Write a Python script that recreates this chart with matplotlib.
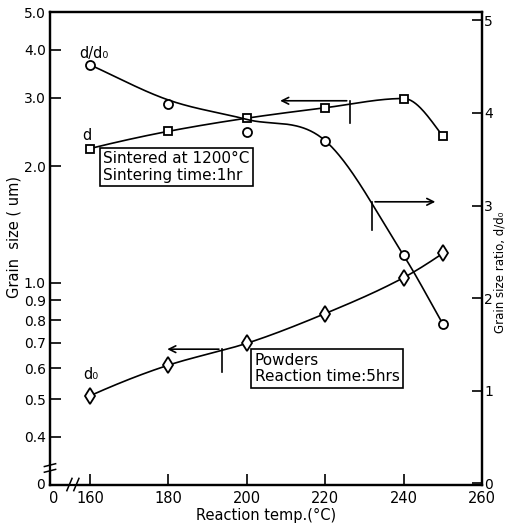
import numpy as np
import matplotlib
matplotlib.use("Agg")
import matplotlib.pyplot as plt
from matplotlib.ticker import NullLocator, FixedLocator, FixedFormatter

# ---------------- data ----------------
temps = [160, 180, 200, 220, 240, 250]
d_sintered = [2.22, 2.46, 2.66, 2.83, 2.99, 2.39]      # d (um), squares, left axis
d_powder = [0.51, 0.612, 0.697, 0.832, 1.03, 1.19]     # d0 (um), diamonds, left axis
ratio = [4.52, 4.10, 3.79, 3.70, 2.46, 1.72]           # d/d0 measured, circles, right axis
ratio_trend = [4.52, 4.14, 3.93, 3.70, 2.46, 1.72]     # d/d0 hand-drawn trend line values

left_ticks = [0.4, 0.5, 0.6, 0.7, 0.8, 0.9, 1.0, 2.0, 3.0, 4.0, 5.0]
left_labels = ["0.4", "0.5", "0.6", "0.7", "0.8", "0.9", "1.0", "2.0", "3.0", "4.0", "5.0"]
x_ticks = [160, 180, 200, 220, 240, 260]
right_ticks = [0, 1, 2, 3, 4, 5]


def hermite(x, y, dd, xs):
    x = np.asarray(x, float)
    y = np.asarray(y, float)
    h = np.diff(x)
    n = len(x)
    xs = np.asarray(xs, float)
    idx = np.clip(np.searchsorted(x, xs) - 1, 0, n - 2)
    t = (xs - x[idx]) / h[idx]
    h00 = 2 * t**3 - 3 * t**2 + 1
    h10 = t**3 - 2 * t**2 + t
    h01 = -2 * t**3 + 3 * t**2
    h11 = t**3 - t**2
    return (h00 * y[idx] + h10 * h[idx] * dd[idx]
            + h01 * y[idx + 1] + h11 * h[idx] * dd[idx + 1])


def pchip(x, y, xs):
    x = np.asarray(x, float)
    y = np.asarray(y, float)
    h = np.diff(x)
    delta = np.diff(y) / h
    n = len(x)
    dd = np.zeros(n)
    for k in range(1, n - 1):
        if delta[k - 1] * delta[k] <= 0:
            dd[k] = 0.0
        else:
            w1 = 2 * h[k] + h[k - 1]
            w2 = h[k] + 2 * h[k - 1]
            dd[k] = (w1 + w2) / (w1 / delta[k - 1] + w2 / delta[k])

    def endslope(h0, h1, d0, d1):
        s = ((2 * h0 + h1) * d0 - h0 * d1) / (h0 + h1)
        if np.sign(s) != np.sign(d0):
            s = 0.0
        elif np.sign(d0) != np.sign(d1) and abs(s) > abs(3 * d0):
            s = 3 * d0
        return s

    dd[0] = endslope(h[0], h[1], delta[0], delta[1])
    dd[-1] = endslope(h[-1], h[-2], delta[-1], delta[-2])
    return hermite(x, y, dd, xs)


def cardinal(x, y, xs):
    x = np.asarray(x, float)
    y = np.asarray(y, float)
    dd = np.zeros(len(x))
    dd[1:-1] = (y[2:] - y[:-2]) / (x[2:] - x[:-2])
    dd[0] = (y[1] - y[0]) / (x[1] - x[0])
    dd[-1] = (y[-1] - y[-2]) / (x[-1] - x[-2])
    return hermite(x, y, dd, xs)


fig = plt.figure(figsize=(5.06, 5.25), dpi=100)
ax = fig.add_axes([0.0988, 0.0762, 0.8538, 0.9008])
ax.set_yscale("log")
ax.set_ylim(0.3, 5.0)
ax.set_xlim(149.8, 260)

FS = 10.5
lw_sp = 1.6
for s in ax.spines.values():
    s.set_linewidth(lw_sp)

ax.yaxis.set_major_locator(FixedLocator(left_ticks))
ax.yaxis.set_major_formatter(FixedFormatter(left_labels))
ax.yaxis.set_minor_locator(NullLocator())
ax.set_xticks(x_ticks)
ax.set_xticklabels([str(v) for v in x_ticks])
ax.tick_params(axis="y", direction="in", length=8, width=1.2, labelsize=10, pad=3)
ax.tick_params(axis="x", direction="in", length=8, width=1.2, labelsize=FS, pad=4)

ax2 = ax.twinx()
ax2.set_ylim(-0.02, 5.09)
ax2.set_yticks(right_ticks)
ax2.set_yticklabels([str(v) for v in right_ticks])
ax2.tick_params(axis="y", direction="in", length=7, width=1.2, labelsize=10, pad=1.5)
for s in ax2.spines.values():
    s.set_linewidth(lw_sp)

xs = np.linspace(temps[0], temps[-1], 300)

# d curve (squares)
ax.plot(xs, np.exp(pchip(temps, np.log(d_sintered), xs)), color="black", lw=1.2)
ax.plot(temps, d_sintered, ls="none", marker="s", ms=6, mfc="white", mec="black", mew=1.3)

# d0 curve (diamonds)
ax.plot(xs, np.exp(pchip(temps, np.log(d_powder), xs)), color="black", lw=1.2)
ax.plot(temps, d_powder, ls="none", marker="d", ms=8, mfc="white", mec="black", mew=1.3)

# d/d0 curve (circles) - hand-drawn trend line
ax2.plot(xs, cardinal(temps, ratio_trend, xs), color="black", lw=1.2)
ax2.plot(temps, ratio, ls="none", marker="o", ms=6.5, mfc="white", mec="black", mew=1.3)

# arrows indicating axes
arrow_kw = dict(arrowstyle="->", lw=1.2, color="black", mutation_scale=12)
ax.annotate("", xy=(207.8, 2.95), xytext=(226.2, 2.95), arrowprops=arrow_kw)
ax.plot([226.2, 226.2], [2.95, 2.58], color="black", lw=1.2)
ax2.annotate("", xy=(248.8, 3.04), xytext=(232.0, 3.04), arrowprops=arrow_kw)
ax2.plot([232.0, 232.0], [3.04, 2.74], color="black", lw=1.2)
ax.annotate("", xy=(179.0, 0.673), xytext=(193.6, 0.673), arrowprops=arrow_kw)
ax.plot([193.6, 193.6], [0.673, 0.587], color="black", lw=1.2)

# curve labels
ax.text(157.3, 3.90, "d/d\u2080", fontsize=FS, va="center", ha="left")
ax.text(158.0, 2.40, "d", fontsize=FS, va="center", ha="left")
ax.text(158.2, 0.58, "d\u2080", fontsize=FS, va="center", ha="left")

box = dict(boxstyle="square,pad=0.22", fc="white", ec="black", lw=1.2)
ax.text(163.3, 1.99, "Sintered at 1200\u00b0C\nSintering time:1hr", fontsize=11,
        va="center", ha="left", bbox=box, linespacing=1.1)
ax.text(202.0, 0.60, "Powders\nReaction time:5hrs", fontsize=11,
        va="center", ha="left", bbox=box, linespacing=1.15)

# axis labels
ax.set_xlabel("Reaction temp.(\u00b0C)", fontsize=FS, labelpad=2)
fig.text(0.027, 0.549, "Grain  size ( um)", fontsize=FS, rotation=90,
         ha="center", va="center")
fig.text(0.988, 0.482, "Grain size ratio, d/d\u2080", fontsize=8.5, rotation=90,
         ha="center", va="center")

# zero labels and axis breaks
ax.text(-0.012, 0.0, "0", transform=ax.transAxes, fontsize=10, ha="right", va="center")
ax.text(0.008, -0.012, "0", transform=ax.transAxes, fontsize=FS, ha="center", va="top")
# y-axis break
ax.add_patch(plt.Rectangle((-0.01, 0.030), 0.02, 0.012, transform=ax.transAxes,
                           fc="white", ec="none", clip_on=False, zorder=5))
for yy in (0.030, 0.042):
    ax.plot([-0.013, 0.013], [yy - 0.003, yy + 0.003], transform=ax.transAxes,
            color="black", lw=1.1, clip_on=False, zorder=6)
# x-axis break
ax.add_patch(plt.Rectangle((0.045, -0.01), 0.018, 0.02, transform=ax.transAxes,
                           fc="white", ec="none", clip_on=False, zorder=5))
for xx in (0.045, 0.061):
    ax.plot([xx - 0.006, xx + 0.006], [-0.012, 0.014], transform=ax.transAxes,
            color="black", lw=1.1, clip_on=False, zorder=6)

fig.savefig("out.png", dpi=100)
